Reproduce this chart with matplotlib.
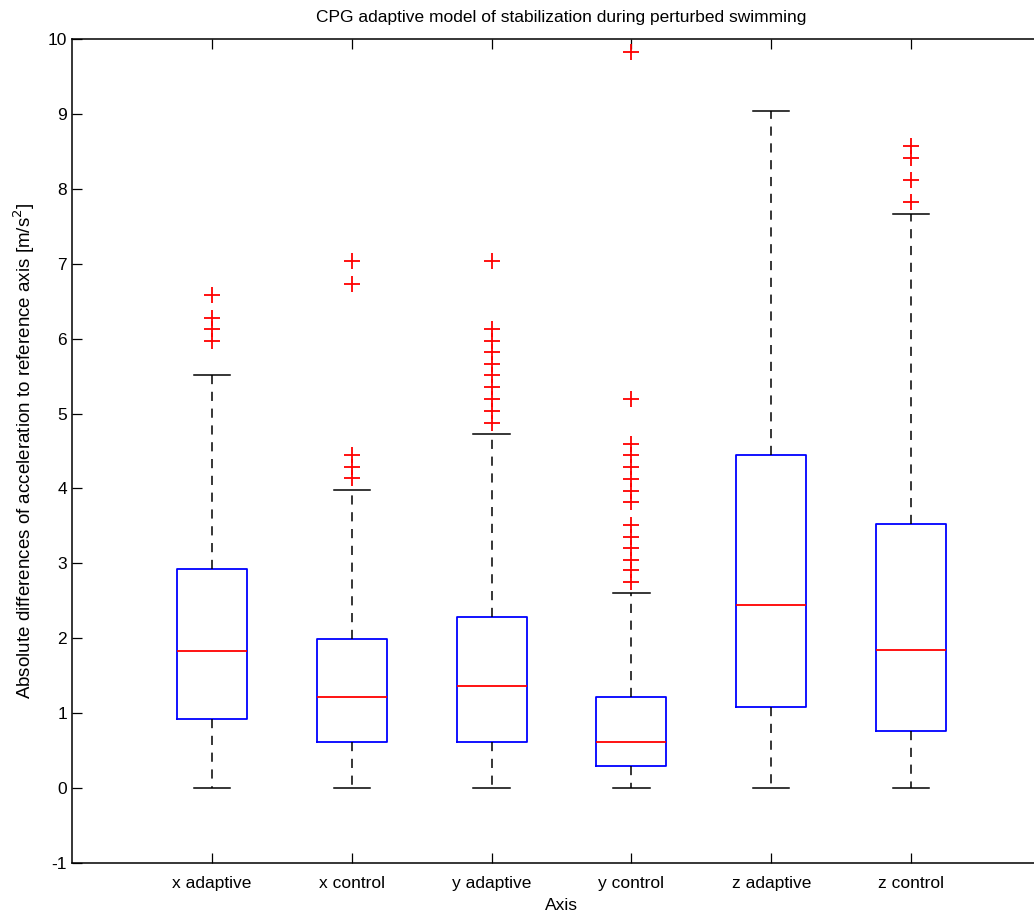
import matplotlib
matplotlib.use("Agg")
import matplotlib.pyplot as plt

plt.rcParams['font.family'] = ['Liberation Sans', 'DejaVu Sans']
plt.rcParams['axes.unicode_minus'] = False

labels = ["x adaptive", "x control", "y adaptive", "y control", "z adaptive", "z control"]
q1 = [0.92, 0.61, 0.61, 0.29, 1.08, 0.76]
med = [1.83, 1.21, 1.36, 0.61, 2.45, 1.84]
q3 = [2.92, 1.99, 2.29, 1.21, 4.44, 3.52]
whislo = [0.0, 0.0, 0.0, 0.0, 0.0, 0.0]
whishi = [5.51, 3.98, 4.73, 2.60, 9.04, 7.66]
fliers = [
    [6.58, 6.28, 6.13, 5.97],
    [7.04, 6.73, 4.44, 4.28, 4.14],
    [7.04, 6.13, 5.97, 5.82, 5.66, 5.51, 5.35, 5.20, 5.04, 4.88],
    [9.82, 5.20, 4.60, 4.44, 4.28, 4.13, 3.97, 3.82, 3.51, 3.35, 3.20, 3.04, 2.91, 2.75],
    [],
    [8.57, 8.41, 8.12, 7.83],
]

stats = []
for i in range(len(labels)):
    stats.append(dict(label=labels[i], q1=q1[i], med=med[i], q3=q3[i],
                      whislo=whislo[i], whishi=whishi[i], fliers=fliers[i]))

fig = plt.figure(figsize=(10.34, 9.16), dpi=100)
ax = fig.add_axes([72/1034, 1-863/916, (1051-72)/1034, (863-39)/916])

ax.bxp(stats, positions=range(1, 7), widths=0.5, capwidths=0.26,
       boxprops=dict(color='blue', linewidth=1.3),
       medianprops=dict(color='red', linewidth=1.3),
       whiskerprops=dict(color='black', linestyle=(0, (6, 5)), linewidth=1.1),
       capprops=dict(color='black', linewidth=1.1),
       flierprops=dict(marker='+', markeredgecolor='red', markersize=11, markeredgewidth=1.3, linestyle='none'))

ax.set_xlim(0, 7)
ax.set_ylim(-1, 10)
ax.set_yticks(range(-1, 11))
ax.set_xticks(range(1, 7))
ax.set_xticklabels(labels)
ax.tick_params(direction='in', length=7, top=True, right=True, labelsize=12.5, width=0.9)
ax.tick_params(axis='x', pad=18)
for lbl in ax.get_xticklabels():
    lbl.set_va('baseline')
ax.set_title("CPG adaptive model of stabilization during perturbed swimming", fontsize=12.5, pad=12)
ax.set_xlabel("Axis", fontsize=12.5, labelpad=5)
ax.set_ylabel("Absolute differences of acceleration to reference axis [m/s$^2$]", fontsize=13.5, labelpad=8)
for s in ax.spines.values():
    s.set_linewidth(1.1)

fig.savefig("out.png", dpi=100)
